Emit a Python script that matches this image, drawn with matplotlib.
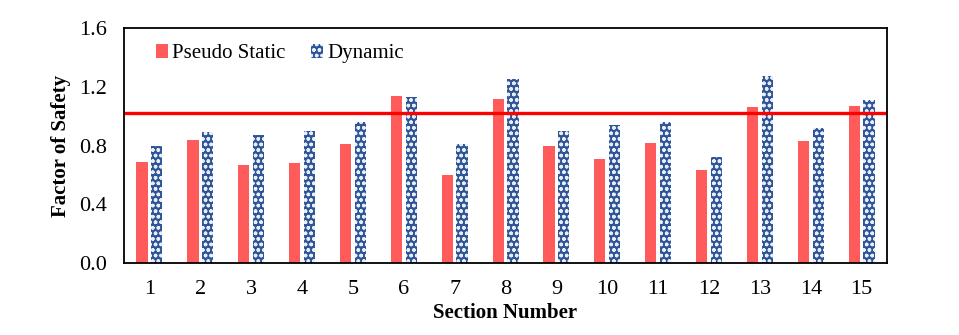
import numpy as np
import matplotlib.pyplot as plt

plt.rcParams['font.family'] = ['Liberation Serif', 'DejaVu Serif']

sections = [str(i) for i in range(1, 16)]
pseudo_static = [0.69, 0.84, 0.67, 0.68, 0.81, 1.14, 0.60, 1.12, 0.80, 0.71, 0.82, 0.63, 1.06, 0.83, 1.07]
dynamic = [0.80, 0.89, 0.87, 0.90, 0.96, 1.13, 0.81, 1.25, 0.90, 0.94, 0.96, 0.72, 1.27, 0.92, 1.11]
threshold = 1.02

fig = plt.figure(figsize=(9.59, 3.35), dpi=100)
ax = fig.add_axes([0.1293, 0.2149, 0.7957, 0.7015])

x = np.arange(len(sections))
w = 0.22
plt.rcParams['hatch.linewidth'] = 1.0
ax.bar(x - 0.145, pseudo_static, w, color='#FF5B5B', label='Pseudo Static')
ax.bar(x + 0.145, dynamic, w, facecolor='#2F5597', edgecolor='#E8EEF8',
       hatch='ooo', linewidth=0, label='Dynamic')

ax.axhline(threshold, color='#FF0000', linewidth=2.4)

ax.set_xlim(-0.5, len(sections) - 0.5)
ax.set_ylim(0, 1.6)
ax.set_yticks([0.0, 0.4, 0.8, 1.2, 1.6])
ax.set_yticklabels(['0.0', '0.4', '0.8', '1.2', '1.6'])
ax.set_xticks(x)
ax.set_xticklabels(sections)
ax.tick_params(length=0, labelsize=16, pad=12)
ax.tick_params(axis='x', pad=12)

for s in ax.spines.values():
    s.set_linewidth(1.3)

ax.set_xlabel('Section Number', fontsize=15, fontweight='bold', labelpad=3)
ax.set_ylabel('Factor of Safety', fontsize=15, fontweight='bold', labelpad=6)

ax.legend(loc='upper left', bbox_to_anchor=(0.017, 1.01), ncol=2, frameon=False,
          fontsize=15, handlelength=0.6, handleheight=0.6, handletextpad=0.2,
          columnspacing=1.2)

fig.savefig('out.png', dpi=100)
